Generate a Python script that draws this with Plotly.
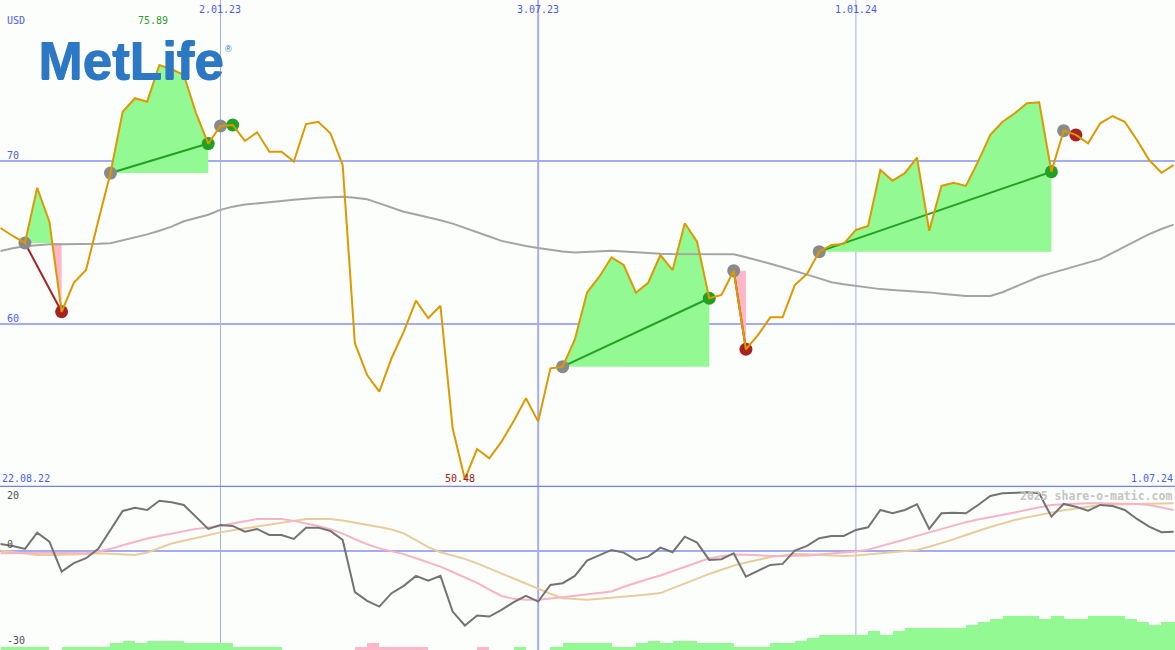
import numpy as np
import pandas as pd
import plotly.graph_objects as go

# ---------------- data ----------------
dates = pd.date_range("2022-08-29", periods=97, freq="7D")

price = [65.89, 65.40, 64.97, 68.36, 66.28, 60.75, 62.53, 63.31, 66.32, 69.26,
         73.02, 73.85, 73.64, 75.89, 75.63, 75.28, 72.94, 71.07, 72.15, 72.21,
         71.23, 71.76, 70.57, 70.57, 69.96, 72.27, 72.41, 71.70, 69.75, 58.82,
         56.87, 55.85, 57.90, 59.53, 61.43, 60.35, 61.12, 53.60, 50.48, 52.33,
         51.76, 52.78, 54.05, 55.44, 54.01, 57.28, 57.38, 59.05, 61.93, 62.90,
         64.09, 63.62, 61.92, 62.53, 64.23, 63.31, 66.18, 65.05, 61.58, 61.78,
         63.27, 58.45, 59.33, 60.41, 60.41, 62.39, 63.07, 64.44, 64.85, 64.91,
         65.77, 66.01, 69.45, 68.79, 69.25, 70.20, 65.72, 68.47, 68.67, 68.47,
         69.96, 71.60, 72.41, 72.93, 73.54, 73.60, 69.34, 71.86, 71.60, 71.09,
         72.31, 72.76, 72.41, 71.29, 70.06, 69.28, 69.75]

ma200 = [64.48, 64.65, 64.77, 64.83, 64.89, 64.89, 64.89, 64.89, 64.92, 64.95,
         65.12, 65.29, 65.50, 65.72, 65.97, 66.30, 66.51, 66.70, 67.00, 67.20,
         67.33, 67.39, 67.45, 67.55, 67.62, 67.69, 67.75, 67.78, 67.81, 67.74,
         67.65, 67.40, 67.15, 66.89, 66.72, 66.55, 66.37, 66.16, 65.91, 65.64,
         65.37, 65.10, 64.93, 64.78, 64.66, 64.55, 64.45, 64.38, 64.42, 64.47,
         64.50, 64.45, 64.39, 64.34, 64.31, 64.29, 64.28, 64.28, 64.28, 64.28,
         64.28, 64.10, 63.92, 63.70, 63.48, 63.27, 63.03, 62.80, 62.56, 62.44,
         62.33, 62.22, 62.14, 62.09, 62.05, 62.00, 61.94, 61.86, 61.79, 61.72,
         61.72, 61.72, 61.95, 62.27, 62.59, 62.90, 63.12, 63.33, 63.54, 63.75,
         63.98, 64.36, 64.75, 65.13, 65.51, 65.83, 66.10]

osc_main = [2.19, 1.56, 0.63, 5.72, 2.91, -6.47, -3.84, -2.28, 0.63, 6.56,
            12.5, 13.53, 12.81, 15.72, 15.22, 14.38, 10.72, 6.88, 8.13, 7.81,
            6.03, 6.88, 5.0, 5.0, 3.75, 7.28, 7.28, 6.25, 3.44, -12.91,
            -15.63, -17.41, -13.22, -10.94, -7.81, -9.28, -7.81, -18.97, -23.34, -20.22,
            -20.53, -18.44, -16.03, -14.06, -15.84, -10.63, -10.09, -7.81, -3.03, -1.25,
            0.31, -0.53, -2.81, -1.78, 1.03, -0.41, 4.47, 2.59, -2.81, -2.59,
            -0.72, -8.03, -6.16, -4.38, -4.06, 0.09, 1.56, 3.97, 4.69, 4.69,
            6.56, 7.41, 12.81, 11.78, 12.81, 14.59, 6.88, 11.78, 11.97, 11.78,
            14.38, 17.19, 18.03, 18.22, 18.34, 18.03, 10.72, 14.69, 13.84, 12.59,
            14.38, 14.06, 12.81, 10.0, 7.59, 5.84, 6.03]

osc_pink = [-0.72, -0.65, -0.6, -0.55, -0.58, -0.63, -0.68, -0.72, -0.2, 0.65,
            1.8, 2.95, 3.9, 4.7, 5.5, 6.3, 6.9, 7.35, 7.8, 8.6,
            9.3, 10.0, 10.0, 10.0, 9.4, 8.7, 7.8, 6.8, 5.4, 3.7,
            2.1, 0.8, -0.2, -1.0, -2.3, -3.6, -4.9, -6.6, -8.3, -10.0,
            -12.1, -14.1, -15.0, -15.3, -15.3, -15.0, -14.5, -14.0, -13.6, -13.3,
            -12.7, -11.2, -9.9, -8.8, -7.7, -6.4, -5.0, -3.6, -2.3, -1.7,
            -1.1, -1.2, -1.4, -1.56, -1.56, -1.56, -1.4, -1.15, -0.85, -0.5,
            -0.15, 0.4, 1.4, 2.5, 3.6, 4.7, 5.8, 6.9, 8.0, 9.0,
            9.8, 10.5, 11.3, 12.0, 12.9, 13.7, 14.4, 14.6, 14.8, 14.9,
            14.9, 14.9, 14.8, 14.7, 14.4, 13.6, 12.8]

osc_tan = [0.1, -0.4, -0.9, -1.25, -1.25, -1.25, -1.15, -0.95, -0.75, -0.9,
           -1.1, -1.25, -0.5, 0.9, 2.3, 3.2, 4.1, 5.0, 5.8, 6.5,
           7.1, 7.6, 8.2, 8.8, 9.4, 9.95, 10.0, 9.95, 9.5, 8.9,
           8.3, 7.5, 6.7, 5.5, 3.4, 1.2, -0.4, -1.4, -2.5, -3.9,
           -5.5, -7.0, -8.6, -10.2, -11.8, -13.4, -14.8, -15.1, -15.3, -15.0,
           -14.7, -14.4, -14.0, -13.6, -13.2, -11.7, -10.1, -8.5, -7.2, -5.9,
           -4.6, -3.6, -2.7, -1.9, -1.4, -1.0, -1.05, -1.2, -1.4, -1.55,
           -1.4, -1.1, -0.7, -0.4, -0.1, 0.3, 1.3, 2.4, 3.6, 5.0,
           6.3, 7.5, 8.6, 9.7, 10.5, 11.3, 12.1, 12.7, 13.3, 13.9,
           14.4, 14.5, 14.6, 14.7, 14.8, 14.9, 14.9]

hist = [1.0, 1.0, 1.0, 1.0, 0, 1.0, 1.0, 1.0, 1.0, 2.1,
        2.8, 2.1, 2.8, 2.8, 2.8, 2.1, 2.1, 2.1, 2.1, 1.0,
        1.0, 1.0, 1.0, 0, 0, 0, 0, 0, 0, -1.0,
        -2.1, -1.0, -1.0, -1.0, -1.0, 0, 0, 0, 0, -1.0,
        0, 0, 1.0, 0, 0, 1.0, 2.1, 2.1, 2.1, 2.1,
        1.0, 1.0, 2.1, 2.8, 2.1, 2.8, 2.8, 2.1, 2.1, 2.1,
        1.0, 1.0, 1.0, 2.1, 2.1, 2.8, 3.75, 4.7, 4.7, 4.7,
        4.7, 5.9, 4.7, 5.9, 6.9, 6.9, 6.9, 6.9, 6.9, 7.8,
        8.75, 9.7, 10.6, 10.6, 10.6, 9.7, 10.6, 9.7, 9.7, 10.6,
        10.6, 10.6, 9.7, 8.75, 7.8, 8.75, 8.75]

entries = [2, 9, 18, 46, 60, 67, 87]
exits = [5, 17, 19, 58, 61, 86, 88]

price_ticks = [60, 70]
osc_ticks = [20, 0, -30]
date_ticks = ["2023-01-02", "2023-07-03", "2024-01-01"]
date_tick_labels = ["2.01.23", "3.07.23", "1.01.24"]
first_label = "22.08.22"
last_label = "1.07.24"

# ---------------- styles ----------------
BG = "#fcfefc"
GRID = "#a3acf2"
BLUE_TXT = "#4c5cf0"
MONO = "DejaVu Sans Mono"
GREEN_FILL = "#93f993"
PINK_FILL = "#ffb6c9"
GREEN_DOT = "#22a022"
RED_DOT = "#a82222"
GRAY_DOT = "#8a8a8a"
LOGO = "#2c78c4"

fig = go.Figure()

tns = dates.values.astype("datetime64[ns]").astype(np.int64)

# trade fills
for i0, i1 in zip(entries, exits):
    L = price[i0]
    pts = []
    for i in range(i0, i1):
        p0, p1 = price[i], price[i + 1]
        pts.append((tns[i], p0))
        if (p0 - L) * (p1 - L) < 0:
            f = (L - p0) / (p1 - p0)
            pts.append((tns[i] + f * (tns[i + 1] - tns[i]), L))
    pts.append((tns[i1], price[i1]))
    xs = [pd.Timestamp(int(a)) for a, _ in pts]
    up = [max(b, L) for _, b in pts]
    dn = [min(b, L) for _, b in pts]
    px = xs + xs[::-1]
    fig.add_trace(go.Scatter(x=px, y=up + [L] * len(xs), fill="toself", fillcolor=GREEN_FILL,
                             mode="lines", line=dict(width=0), hoverinfo="skip"))
    fig.add_trace(go.Scatter(x=px, y=dn + [L] * len(xs), fill="toself", fillcolor=PINK_FILL,
                             mode="lines", line=dict(width=0), hoverinfo="skip"))

# 200-day moving average
fig.add_trace(go.Scatter(x=dates, y=ma200, mode="lines", line=dict(color="#a4a4a4", width=2)))

# trade lines
for i0, i1 in zip(entries, exits):
    col = GREEN_DOT if price[i1] >= price[i0] else RED_DOT
    fig.add_trace(go.Scatter(x=[dates[i0], dates[i1]], y=[price[i0], price[i1]], mode="lines",
                             line=dict(color=col, width=2)))

# markers (drawn under the price line)
fig.add_trace(go.Scatter(x=[dates[i] for i in entries], y=[price[i] for i in entries], mode="markers",
                         marker=dict(color=GRAY_DOT, size=13, line=dict(width=0))))
fig.add_trace(go.Scatter(x=[dates[i] for i in exits], y=[price[i] for i in exits], mode="markers",
                         marker=dict(color=[GREEN_DOT if price[b] >= price[a] else RED_DOT
                                            for a, b in zip(entries, exits)], size=13, line=dict(width=0))))

# price line
fig.add_trace(go.Scatter(x=dates, y=price, mode="lines", line=dict(color="#dc9a00", width=2)))

# oscillator histogram
fig.add_trace(go.Bar(x=dates, y=[abs(v) for v in hist], base=-31, yaxis="y2",
                     marker=dict(color=[GREEN_FILL if v >= 0 else PINK_FILL for v in hist], line=dict(width=0)),
                     width=7 * 24 * 3600 * 1000, offset=0))
fig.add_trace(go.Scatter(x=dates, y=osc_tan, yaxis="y2", mode="lines", line=dict(color="#e8cc9c", width=2)))
fig.add_trace(go.Scatter(x=dates, y=osc_pink, yaxis="y2", mode="lines", line=dict(color="#f9b3c6", width=2)))
fig.add_trace(go.Scatter(x=dates, y=osc_main, yaxis="y2", mode="lines", line=dict(color="#737373", width=2)))

# ---------------- shapes ----------------
shapes = []
for v in price_ticks:
    shapes.append(dict(type="line", xref="paper", x0=0, x1=1, yref="y", y0=v, y1=v,
                       line=dict(color=GRID, width=2), layer="below"))
shapes.append(dict(type="line", xref="paper", x0=0, x1=1, yref="y2", y0=0, y1=0,
                   line=dict(color=GRID, width=2), layer="below"))
for d in date_ticks:
    w = 1 if pd.Timestamp(d).month == 1 else 2
    shapes.append(dict(type="line", xref="x", x0=d, x1=d, yref="paper", y0=0, y1=1,
                       line=dict(color="#a6acf0", width=w), layer="below"))
shapes.append(dict(type="line", xref="paper", x0=0, x1=1, yref="y", y0=50, y1=50,
                   line=dict(color="#7282ee", width=2.5), layer="above"))

# ---------------- annotations ----------------
ann = []
f10 = dict(family=MONO, size=10, color=BLUE_TXT)
ann.append(dict(text="USD", xref="paper", yref="paper", x=5 / 1175, y=1 - 20 / 650,
                xanchor="left", yanchor="middle", showarrow=False, font=f10))
for v in price_ticks:
    ann.append(dict(text=str(v), xref="paper", yref="y", x=5 / 1175, y=v, yshift=6,
                    xanchor="left", yanchor="middle", showarrow=False, font=f10))
for d, lab in zip(date_ticks, date_tick_labels):
    ann.append(dict(text=lab, xref="x", yref="paper", x=d, y=1, yshift=-2,
                    xanchor="center", yanchor="top", showarrow=False, font=f10))
ann.append(dict(text=first_label, xref="paper", yref="y", x=0, y=50, yshift=1,
                xanchor="left", yanchor="bottom", showarrow=False, font=f10))
ann.append(dict(text=last_label, xref="paper", yref="y", x=1, y=50, yshift=1,
                xanchor="right", yanchor="bottom", showarrow=False, font=f10))
ogray = dict(family=MONO, size=10, color="#505050")
ann.append(dict(text=str(osc_ticks[0]), xref="paper", yref="y2", x=5 / 1175, y=osc_ticks[0], yshift=-1,
                xanchor="left", yanchor="top", showarrow=False, font=ogray))
ann.append(dict(text=str(osc_ticks[1]), xref="paper", yref="y2", x=5 / 1175, y=osc_ticks[1], yshift=6,
                xanchor="left", yanchor="middle", showarrow=False, font=ogray))
ann.append(dict(text=str(osc_ticks[2]), xref="paper", yref="y2", x=5 / 1175, y=osc_ticks[2], yshift=-1,
                xanchor="left", yanchor="bottom", showarrow=False, font=ogray))
imax = int(np.argmax(price))
imin = int(np.argmin(price))
ann.append(dict(text=f"{price[imax]:.2f}", xref="x", yref="paper", x=dates[imax], xshift=-6,
                y=1 - 20 / 650, xanchor="center", yanchor="middle", showarrow=False,
                font=dict(family=MONO, size=10, color="#2f9f2f")))
ann.append(dict(text=f"{price[imin]:.2f}", xref="x", yref="y", x=dates[imin], xshift=-5,
                y=50, yshift=1, xanchor="center", yanchor="bottom", showarrow=False,
                font=dict(family=MONO, size=10, color="#a02020")))
ann.append(dict(text="MetLife", xref="paper", yref="paper", x=36 / 1175, y=1 - 61 / 650,
                xanchor="left", yanchor="middle", showarrow=False,
                font=dict(family="Liberation Sans", size=53, color=LOGO, weight="bold",
                          shadow=f"1px 0px 0px {LOGO}, 0.5px 0.5px 0px {LOGO}")))
ann.append(dict(text="®", xref="paper", yref="paper", x=229 / 1175, y=1 - 49 / 650,
                xanchor="center", yanchor="middle", showarrow=False,
                font=dict(family="Liberation Sans", size=9, color=LOGO)))
ann.append(dict(text="2025 share-o-matic.com", xref="paper", yref="paper", x=1, y=1 - 496 / 650,
                xanchor="right", yanchor="middle", xshift=-1, showarrow=False,
                font=dict(family=MONO, size=11.5, color="#c4c4c4", weight="bold")))

start = pd.Timestamp("2022-08-29") - pd.Timedelta(hours=7)
end = start + pd.Timedelta(days=1175 / 1.7457)

fig.update_layout(
    width=1175, height=650, margin=dict(l=0, r=0, t=0, b=0),
    paper_bgcolor=BG, plot_bgcolor=BG, showlegend=False,
    xaxis=dict(range=[start, end], visible=False, showgrid=False, zeroline=False),
    yaxis=dict(domain=[163 / 650, 1], range=[50, 50 + 20 * 487 / 326], visible=False,
               showgrid=False, zeroline=False),
    yaxis2=dict(domain=[0, 163 / 650], range=[-31, 20], visible=False, anchor="x",
                showgrid=False, zeroline=False),
    shapes=shapes, annotations=ann, bargap=0,
)

fig.write_html("out.html", config={"displayModeBar": False},
               post_script="document.body.style.margin='0';document.body.style.overflow='hidden';")
